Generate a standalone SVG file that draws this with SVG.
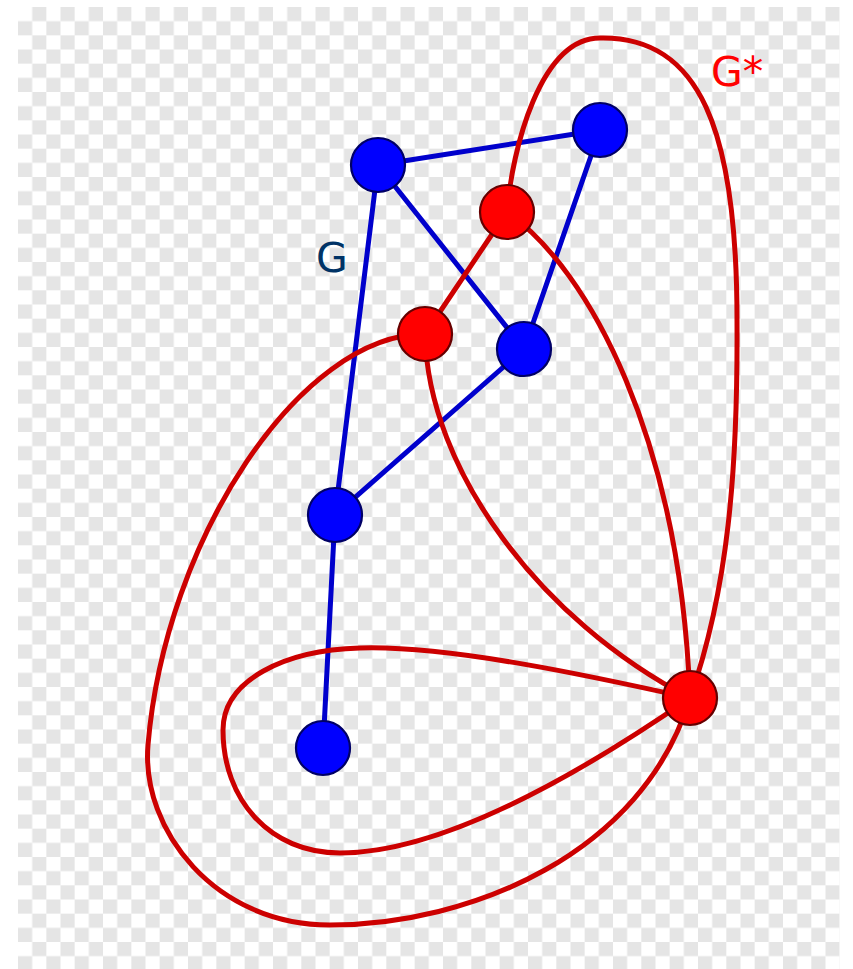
<svg xmlns="http://www.w3.org/2000/svg" width="853" height="969" viewBox="0 0 853 969">
<defs>
<pattern id="checker" patternUnits="userSpaceOnUse" x="18" y="7" width="28.333" height="28.333">
<rect x="0" y="0" width="28.333" height="28.333" fill="#ffffff"/>
<rect x="14.167" y="0" width="14.167" height="14.167" fill="#e5e5e5"/>
<rect x="0" y="14.167" width="14.167" height="14.167" fill="#e5e5e5"/>
</pattern>
<style>
.be{stroke:#0000cc;stroke-width:5;fill:none;stroke-linecap:round}
.re{stroke:#cc0000;stroke-width:5;fill:none;stroke-linecap:round}
.bn{fill:#0000ff;stroke:#000066;stroke-width:2.2}
.rn{fill:#ff0000;stroke:#660000;stroke-width:2.2}
.lbl{font-family:"DejaVu Sans",sans-serif;font-size:41px}
</style>
</defs>
<rect x="0" y="0" width="853" height="969" fill="#ffffff"/>
<rect x="18" y="7" width="821.67" height="962" fill="url(#checker)"/>
<g id="connectors">
<g id="blue-edges">
<line class="be" x1="378" y1="165" x2="600" y2="130"/>
<line class="be" x1="378" y1="165" x2="524" y2="349"/>
<line class="be" x1="378" y1="165" x2="335" y2="515"/>
<line class="be" x1="600" y1="130" x2="524" y2="349"/>
<line class="be" x1="524" y1="349" x2="335" y2="515"/>
<line class="be" x1="335" y1="515" x2="323" y2="748"/>
</g>
<g id="red-edges">
<line class="re" x1="507" y1="212" x2="425" y2="334"/>
<path class="re" d="M507,212 C512,150 540,38 600,38 C700,36 737,130 737,320 C738,470 728,590 690,698"/>
<path class="re" d="M507,212 C590,270 680,440 690,698"/>
<path class="re" d="M425,334 C428,470 540,620 690,698"/>
<path class="re" d="M425,334 C300,334 165,540 148,745 C141,830 215,925 330,925 C470,925 643,854 690,698"/>
<path class="re" d="M690,698 C600,678 450,645 360,648 C285,650 223,680 223,730 C223,800 270,853 340,853 C450,853 600,760 690,698"/>
</g>
</g>
<g id="B1"><circle class="bn" cx="378" cy="165" r="27"/></g>
<g id="B2"><circle class="bn" cx="600" cy="130" r="27"/></g>
<g id="B3"><circle class="bn" cx="524" cy="349" r="27"/></g>
<g id="B4"><circle class="bn" cx="335" cy="515" r="27"/></g>
<g id="B5"><circle class="bn" cx="323" cy="748" r="27"/></g>
<g id="R1"><circle class="rn" cx="507" cy="212" r="27"/></g>
<g id="R2"><circle class="rn" cx="425" cy="334" r="27"/></g>
<g id="R3"><circle class="rn" cx="690" cy="698" r="27"/></g>
<g id="label-G"><text class="lbl" x="316" y="272" fill="#003366">G</text></g>
<g id="label-Gstar"><text class="lbl" x="711" y="86" fill="#ff0000" font-size="42">G*</text></g>
</svg>
